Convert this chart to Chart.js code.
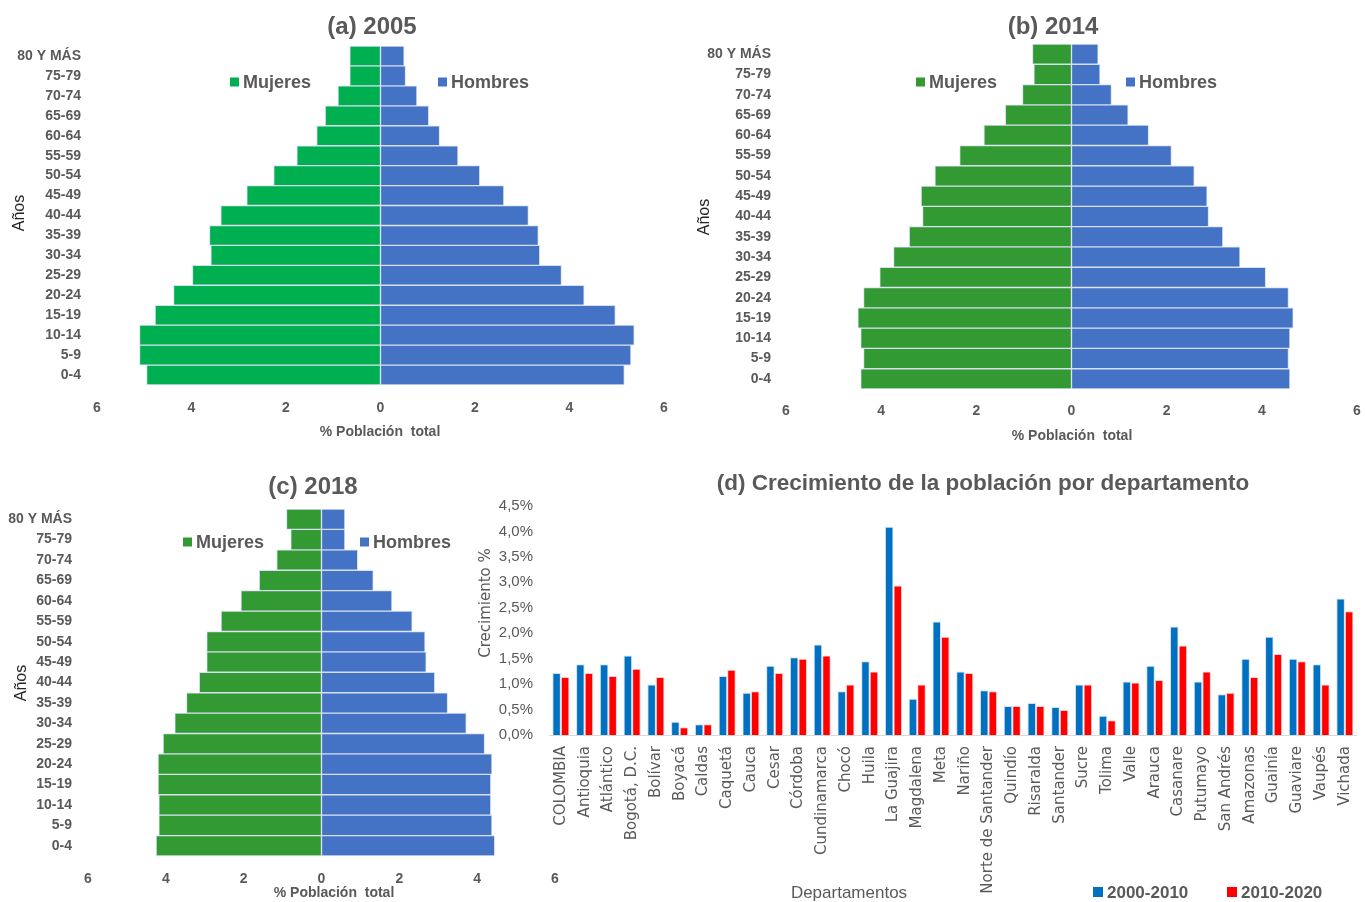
<!DOCTYPE html>
<html><head><meta charset="utf-8">
<script src="https://cdn.jsdelivr.net/npm/chart.js@4.4.1/dist/chart.umd.min.js"></script>
<style>
html,body{margin:0;padding:0;background:#fff;width:1365px;height:902px;overflow:hidden;}
canvas{position:absolute;display:block;}
</style></head><body>
<canvas id="ca" width="680" height="450" style="left:0;top:0;width:680px;height:450px"></canvas>
<canvas id="cb" width="685" height="450" style="left:680px;top:0;width:685px;height:450px"></canvas>
<canvas id="cc" width="570" height="437" style="left:0;top:465px;width:570px;height:437px"></canvas>
<canvas id="cd" width="895" height="437" style="left:470px;top:465px;width:895px;height:437px"></canvas>
<script>
// ---------- DATA ----------
const ageGroups = ['0-4','5-9','10-14','15-19','20-24','25-29','30-34','35-39','40-44','45-49','50-54','55-59','60-64','65-69','70-74','75-79','80 Y MÁS'];
const mujeres2005 = [4.95,5.10,5.10,4.77,4.38,3.98,3.59,3.62,3.38,2.83,2.26,1.77,1.35,1.17,0.90,0.65,0.65];
const hombres2005 = [5.16,5.30,5.37,4.97,4.31,3.83,3.37,3.34,3.13,2.61,2.10,1.64,1.25,1.02,0.77,0.53,0.50];
const mujeres2014 = [4.43,4.37,4.43,4.49,4.37,4.03,3.74,3.41,3.13,3.16,2.87,2.35,1.84,1.39,1.03,0.79,0.82];
const hombres2014 = [4.59,4.56,4.59,4.66,4.56,4.08,3.54,3.18,2.88,2.85,2.58,2.10,1.62,1.19,0.84,0.60,0.56];
const mujeres2018 = [4.25,4.18,4.18,4.20,4.20,4.07,3.77,3.47,3.14,2.95,2.95,2.58,2.07,1.60,1.15,0.79,0.90];
const hombres2018 = [4.45,4.38,4.35,4.35,4.38,4.19,3.72,3.24,2.91,2.69,2.66,2.33,1.81,1.33,0.93,0.60,0.60];
const pyramidTicks = [-6,-4,-2,0,2,4,6];

const departamentos = ['COLOMBIA','Antioquia','Atlántico','Bogotá, D.C.','Bolívar','Boyacá','Caldas','Caquetá','Cauca','Cesar','Córdoba','Cundinamarca','Chocó','Huila','La Guajira','Magdalena','Meta','Nariño','Norte de Santander','Quindío','Risaralda','Santander','Sucre','Tolima','Valle','Arauca','Casanare','Putumayo','San Andrés','Amazonas','Guainía','Guaviare','Vaupés','Vichada'];
const crec2000_2010 = [1.22,1.39,1.39,1.56,0.99,0.26,0.21,1.16,0.83,1.36,1.53,1.78,0.86,1.45,4.09,0.71,2.23,1.25,0.88,0.57,0.63,0.55,0.99,0.38,1.05,1.36,2.13,1.05,0.80,1.50,1.93,1.50,1.39,2.68];
const crec2010_2020 = [1.14,1.22,1.16,1.30,1.14,0.15,0.21,1.28,0.86,1.22,1.50,1.56,0.99,1.25,2.94,0.99,1.93,1.22,0.86,0.57,0.57,0.49,0.99,0.29,1.03,1.08,1.76,1.25,0.83,1.14,1.59,1.45,0.99,2.43];
const crecTicks = [0,0.5,1,1.5,2,2.5,3,3.5,4,4.5];

// ---------- STYLE ----------
const GREY = '#595959';
const SANS = '"Liberation Sans",Arial,sans-serif';
const BOLDF = (s) => 'bold ' + s + 'px ' + SANS;

const textPlugin = {
  id: 'texts',
  afterDraw(chart, args, o) {
    const ctx = chart.ctx;
    (o.items || []).forEach(it => {
      ctx.save();
      ctx.translate(it.x, it.y);
      if (it.rot) ctx.rotate(it.rot);
      ctx.font = it.font;
      ctx.fillStyle = it.color || GREY;
      ctx.textAlign = it.align || 'center';
      ctx.textBaseline = 'middle';
      ctx.fillText(it.text, 0, 0);
      ctx.restore();
    });
    (o.legend || []).forEach(it => {
      const ds = chart.data.datasets[it.ds];
      ctx.save();
      ctx.fillStyle = ds.backgroundColor;
      ctx.fillRect(it.x, it.y - it.box / 2, it.box, it.box);
      ctx.font = it.font;
      ctx.fillStyle = GREY;
      ctx.textAlign = 'left';
      ctx.textBaseline = 'middle';
      ctx.fillText(ds.label, it.x + it.box + 4, it.y + 1);
      ctx.restore();
    });
  }
};

function pyramid(id, women, men, green, cfg) {
  return new Chart(document.getElementById(id), {
    type: 'bar',
    data: {
      labels: ageGroups,
      datasets: [
        { label: 'Mujeres', data: women.map(v => -v), backgroundColor: green, borderColor: '#d6e0f2', borderWidth: 1, borderSkipped: false },
        { label: 'Hombres', data: men, backgroundColor: '#4472c4', borderColor: '#d6e0f2', borderWidth: 1, borderSkipped: false }
      ]
    },
    options: {
      indexAxis: 'y',
      responsive: false,
      animation: false,
      devicePixelRatio: 1,
      layout: { padding: { left: 0, right: cfg.padRight, top: cfg.top, bottom: 0 } },
      datasets: { bar: { barPercentage: 1, categoryPercentage: 1 } },
      scales: {
        x: {
          stacked: true, min: -6, max: 6,
          afterBuildTicks: s => { s.ticks = pyramidTicks.map(v => ({ value: v })); },
          afterFit: s => { s.height = cfg.xh; },
          grid: { display: false, drawTicks: true, tickLength: cfg.xpad - 2 },
          border: { display: false },
          ticks: { padding: 2, color: GREY, font: { family: SANS, size: 14, weight: 'bold' },
                   callback: v => Math.abs(v), maxRotation: 0 }
        },
        y: {
          stacked: true, reverse: true,
          afterFit: s => { s.width = cfg.left; },
          grid: { display: false, drawTicks: false },
          border: { display: false },
          ticks: { padding: cfg.ypad, color: GREY, font: { family: SANS, size: 14, weight: 'bold' }, autoSkip: false }
        }
      },
      plugins: {
        legend: { display: false },
        tooltip: { enabled: false },
        title: { display: false },
        texts: cfg.texts
      }
    },
    plugins: [textPlugin]
  });
}

// (a) 2005
pyramid('ca', mujeres2005, hombres2005, '#00b050', {
  left: 97, padRight: 16, top: 46, xh: 65, xpad: 15, ypad: 16,
  texts: {
    items: [
      { text: '(a) 2005', x: 372, y: 27, font: BOLDF(24) },
      { text: 'Años', x: 20, y: 213, rot: -Math.PI / 2, font: '16px ' + SANS, color: '#262626' },
      { text: '% Población  total', x: 380, y: 432, font: BOLDF(14) }
    ],
    legend: [
      { ds: 0, x: 230, y: 82, box: 9, font: BOLDF(18) },
      { ds: 1, x: 438, y: 82, box: 9, font: BOLDF(18) }
    ]
  }
});

// (b) 2014
pyramid('cb', mujeres2014, hombres2014, '#339933', {
  left: 106, padRight: 8, top: 44, xh: 61, xpad: 14, ypad: 15,
  texts: {
    items: [
      { text: '(b) 2014', x: 373, y: 27, font: BOLDF(24) },
      { text: 'Años', x: 25, y: 217, rot: -Math.PI / 2, font: '16px ' + SANS, color: '#262626' },
      { text: '% Población  total', x: 392, y: 436, font: BOLDF(14) }
    ],
    legend: [
      { ds: 0, x: 236, y: 82, box: 9, font: BOLDF(18) },
      { ds: 1, x: 446, y: 82, box: 9, font: BOLDF(18) }
    ]
  }
});

// (c) 2018
pyramid('cc', mujeres2018, hombres2018, '#339933', {
  left: 88, padRight: 15, top: 44, xh: 46, xpad: 15, ypad: 16,
  texts: {
    items: [
      { text: '(c) 2018', x: 313, y: 22, font: BOLDF(24) },
      { text: 'Años', x: 22, y: 218, rot: -Math.PI / 2, font: '16px ' + SANS, color: '#262626' },
      { text: '% Población  total', x: 334, y: 428, font: BOLDF(14) }
    ],
    legend: [
      { ds: 0, x: 183, y: 77, box: 9, font: BOLDF(18) },
      { ds: 1, x: 360, y: 77, box: 9, font: BOLDF(18) }
    ]
  }
});

// (d) growth by department
new Chart(document.getElementById('cd'), {
  type: 'bar',
  data: {
    labels: departamentos,
    datasets: [
      { label: '2000-2010', data: crec2000_2010, backgroundColor: '#0070c0', borderColor: '#cfe0f3', borderWidth: { top: 1, left: 1, right: 1, bottom: 0 } },
      { label: '2010-2020', data: crec2010_2020, backgroundColor: '#ff0000', borderColor: '#fdd0d0', borderWidth: { top: 1, left: 1, right: 1, bottom: 0 } }
    ]
  },
  options: {
    responsive: false,
    animation: false,
    devicePixelRatio: 1,
    layout: { padding: { left: 0, right: 8, top: 41, bottom: 0 } },
    datasets: { bar: { barPercentage: 1, categoryPercentage: 0.72 } },
    scales: {
      x: {
        afterFit: s => { s.height = 167; },
        grid: { display: false, drawTicks: true, tickLength: 9 },
        border: { display: true, color: '#d9d9d9', width: 1 },
        ticks: { padding: 2, color: GREY, font: { family: '"DejaVu Sans",sans-serif', size: 15 },
                 autoSkip: false, minRotation: 90, maxRotation: 90 }
      },
      y: {
        min: 0, max: 4.5,
        afterBuildTicks: s => { s.ticks = crecTicks.map(v => ({ value: v })); },
        afterFit: s => { s.width = 79; },
        grid: { display: false, drawTicks: false },
        border: { display: false },
        ticks: { padding: 16, color: GREY, font: { family: SANS, size: 15 },
                 callback: v => v.toFixed(1).replace('.', ',') + '%' }
      }
    },
    plugins: {
      legend: { display: false },
      tooltip: { enabled: false },
      texts: {
        items: [
          { text: '(d) Crecimiento de la población por departamento', x: 513, y: 19, font: BOLDF(22.5) },
          { text: 'Crecimiento %', x: 16, y: 138, rot: -Math.PI / 2, font: '15px "DejaVu Sans",sans-serif' },
          { text: 'Departamentos', x: 379, y: 428, font: '17px ' + SANS }
        ],
        legend: [
          { ds: 0, x: 623, y: 427, box: 10, font: BOLDF(17) },
          { ds: 1, x: 757, y: 427, box: 10, font: BOLDF(17) }
        ]
      }
    }
  },
  plugins: [textPlugin]
});
</script>
</body></html>
